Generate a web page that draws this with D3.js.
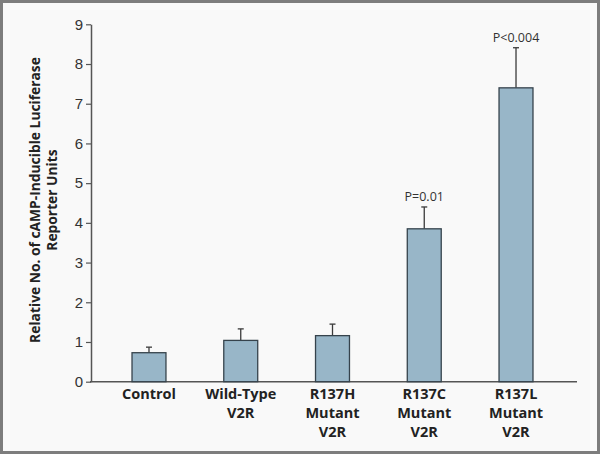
<!DOCTYPE html>
<html>
<head>
<meta charset="utf-8">
<script src="https://cdn.jsdelivr.net/npm/d3@7"></script>
<style>
  html, body { margin: 0; padding: 0; background: #fff; }
  svg { display: block; font-family: "Open Sans", "DejaVu Sans", sans-serif; }
</style>
</head>
<body>
<div id="chart"></div>
<script>
const categories = ['Control', 'Wild-Type\nV2R', 'R137H\nMutant\nV2R', 'R137C\nMutant\nV2R', 'R137L\nMutant\nV2R'];
const values = [0.73, 1.04, 1.16, 3.85, 7.4];
const errors = [0.14, 0.29, 0.29, 0.55, 1.01];
const pLabels = ['', '', '', 'P=0.01', 'P<0.004'];
const yTicks = [0, 1, 2, 3, 4, 5, 6, 7, 8, 9];

const width = 600, height = 454;

const svg = d3.select('#chart')
  .append('svg')
  .attr('width', width)
  .attr('height', height);

// frame
svg.append('rect')
  .attr('x', 1.5).attr('y', 1.5)
  .attr('width', width - 3).attr('height', height - 3)
  .attr('fill', '#f9f9f9')
  .attr('stroke', '#7d7d7d')
  .attr('stroke-width', 3);

const x = d3.scaleBand()
  .domain(categories)
  .range([91, 574])
  .paddingInner(0.63)
  .paddingOuter(0.447);

const y = d3.scaleLinear()
  .domain([0, 9])
  .range([381.7, 24.3]);

// y axis
const yAxis = svg.append('g')
  .attr('transform', 'translate(91,0)')
  .call(d3.axisLeft(y).tickValues(yTicks).tickSize(5).tickPadding(3).tickSizeOuter(0));
yAxis.select('.domain').attr('stroke', '#555').attr('stroke-width', 1.5);
yAxis.selectAll('.tick line').attr('stroke', '#555').attr('stroke-width', 1.2);
yAxis.selectAll('.tick text')
  .attr('fill', '#333')
  .style('font-size', '15px');

// x axis line
svg.append('line')
  .attr('x1', 90).attr('x2', 577)
  .attr('y1', y(0)).attr('y2', y(0))
  .attr('stroke', '#555')
  .attr('stroke-width', 1.5);

// error bars (upper only)
const eb = svg.append('g');
categories.forEach((c, i) => {
  const cx = x(c) + x.bandwidth() / 2;
  eb.append('line')
    .attr('x1', cx).attr('x2', cx)
    .attr('y1', y(values[i])).attr('y2', y(values[i] + errors[i]))
    .attr('stroke', '#3a3a3a').attr('stroke-width', 1.3);
  eb.append('line')
    .attr('x1', cx - 3).attr('x2', cx + 3)
    .attr('y1', y(values[i] + errors[i])).attr('y2', y(values[i] + errors[i]))
    .attr('stroke', '#3a3a3a').attr('stroke-width', 1.3);
  if (pLabels[i]) {
    svg.append('text')
      .attr('x', cx)
      .attr('y', y(values[i] + errors[i]) - 6)
      .attr('text-anchor', 'middle')
      .attr('fill', '#333')
      .style('font-size', '12.5px')
      .text(pLabels[i]);
  }
});

// bars
svg.append('g')
  .selectAll('rect')
  .data(values)
  .join('rect')
  .attr('x', (d, i) => x(categories[i]))
  .attr('y', d => y(d))
  .attr('width', x.bandwidth())
  .attr('height', d => y(0) - y(d))
  .attr('fill', '#98b6c8')
  .attr('stroke', '#36434c')
  .attr('stroke-width', 1.3);

// category labels
categories.forEach(c => {
  const t = svg.append('text')
    .attr('text-anchor', 'middle')
    .attr('fill', '#222')
    .style('font-size', '14.5px')
    .style('font-weight', 'bold');
  c.split('\n').forEach((line, j) => {
    t.append('tspan')
      .attr('x', x(c) + x.bandwidth() / 2)
      .attr('y', 399 + j * 19)
      .text(line);
  });
});

// y axis title
const yt = svg.append('text')
  .attr('transform', 'translate(0,200) rotate(-90)')
  .attr('text-anchor', 'middle')
  .attr('fill', '#222')
  .style('font-size', '13.8px')
  .style('font-weight', 'bold');
yt.append('tspan').attr('x', 0).attr('y', 40).text('Relative No. of cAMP-Inducible Luciferase');
yt.append('tspan').attr('x', 0).attr('y', 57).text('Reporter Units');
</script>
</body>
</html>
